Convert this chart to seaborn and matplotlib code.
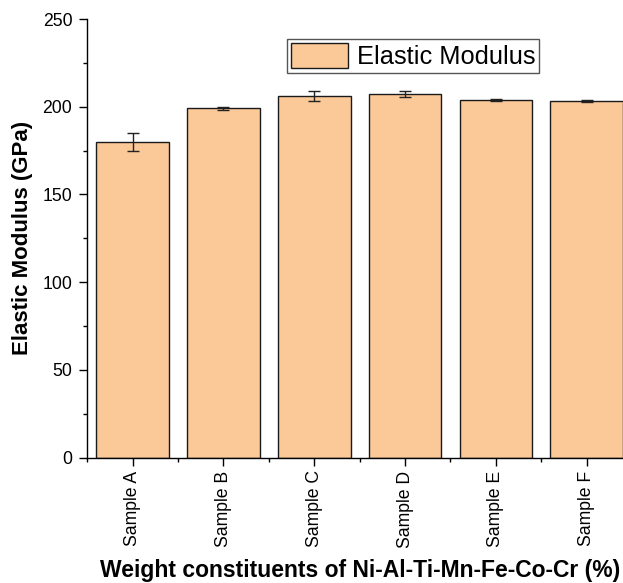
import numpy as np
import pandas as pd
import matplotlib
matplotlib.use("Agg")
import matplotlib.pyplot as plt
from matplotlib.ticker import MultipleLocator, FixedLocator
import seaborn as sns

# Elastic modulus of each alloy sample (GPa) with its standard deviation
samples = ["Sample A", "Sample B", "Sample C", "Sample D", "Sample E", "Sample F"]
modulus = [180.0, 199.0, 206.0, 207.3, 204.0, 203.5]
modulus_err = [5.0, 0.8, 2.8, 1.5, 0.5, 0.6]

sns.set_theme(style="ticks")
plt.rcParams["font.family"] = ["Liberation Sans", "DejaVu Sans"]
plt.rcParams["text.color"] = "black"
plt.rcParams["axes.labelcolor"] = "black"
plt.rcParams["xtick.color"] = "black"
plt.rcParams["ytick.color"] = "black"

df = pd.DataFrame({"sample": samples, "modulus": modulus, "err": modulus_err})

fig = plt.figure(figsize=(6.23, 5.83), dpi=100)
ax = fig.add_axes([87.3 / 623, 1 - 457.5 / 583, (632 - 87.3) / 623, (457.5 - 19) / 583])

sns.barplot(data=df, x="sample", y="modulus", color="#FBC897", saturation=1,
            edgecolor="#1a1a1a", linewidth=1.0, width=0.8, errorbar=None,
            label="Elastic Modulus", ax=ax)

# error bars placed on the categorical positions of the bars
xpos = ax.get_xticks()
ax.errorbar(xpos, df["modulus"], yerr=df["err"], fmt="none", ecolor="#222222",
            elinewidth=1.0, capsize=4, capthick=1.0)

ax.set_xlim(-0.5, 5.5)
ax.set_ylim(0, 250)
ax.yaxis.set_major_locator(MultipleLocator(50))
ax.yaxis.set_minor_locator(MultipleLocator(25))
ax.xaxis.set_minor_locator(FixedLocator(np.arange(-0.5, 6.0, 1.0)))

for side in ["top", "right"]:
    ax.spines[side].set_visible(False)
for side in ["left", "bottom"]:
    ax.spines[side].set_linewidth(1.0)
    ax.spines[side].set_color("black")

ax.tick_params(axis="both", which="major", direction="out", length=5.8, width=1.0,
               color="black", labelsize=12.7, labelcolor="black")
ax.tick_params(axis="both", which="minor", direction="out", length=3.0, width=1.0,
               color="black")
ax.tick_params(axis="y", which="major", pad=5)
ax.tick_params(axis="x", which="major", pad=3.5)
for lbl in ax.get_xticklabels():
    lbl.set_rotation(90)

ax.set_xlabel("Weight constituents of Ni-Al-Ti-Mn-Fe-Co-Cr (%)", fontsize=16.5,
              fontweight="bold", labelpad=8, color="black")
ax.set_ylabel("Elastic Modulus (GPa)", fontsize=16, fontweight="bold", labelpad=7,
              color="black")

leg = ax.legend(loc="upper left", bbox_to_anchor=(286.7 / 623, 1 - 39.3 / 583),
                bbox_transform=fig.transFigure, borderaxespad=0, fontsize=18.3,
                frameon=True, fancybox=False, framealpha=1, borderpad=0.15,
                handlelength=2.25, handleheight=1.1, handletextpad=0.35)
leg.get_frame().set_edgecolor("#555555")
leg.get_frame().set_linewidth(1.0)
for t in leg.get_texts():
    t.set_color("black")

fig.savefig("out.png", dpi=100)
